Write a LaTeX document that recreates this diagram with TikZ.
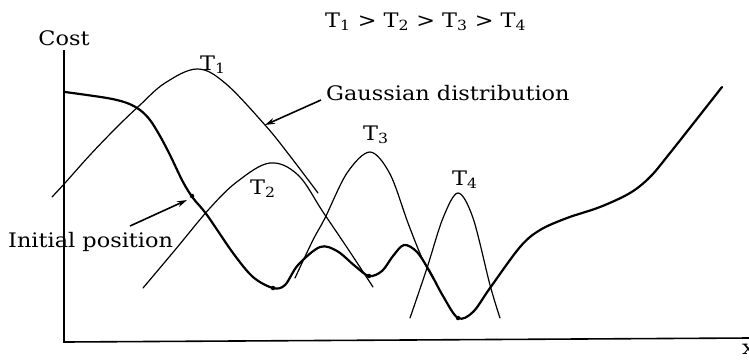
\documentclass[tikz,border=0pt]{standalone}
\usepackage{fontspec}
\setmainfont{DejaVu Serif}
\usetikzlibrary{arrows.meta}
\begin{document}
\begin{tikzpicture}[x=1pt,y=-1pt,
  lbl/.style={inner sep=0pt, xscale=1.12, font=\fontsize{20}{22}\selectfont},
  gauss/.style={line width=1.2pt, line join=round, line cap=round},
  cost curve/.style={line width=2.2pt, line join=round, line cap=round},
  axis/.style={line width=1.6pt},
  ptr/.style={line width=1.6pt, -{Stealth[length=10pt,width=6pt]}},
  ball/.style={circle, fill, inner sep=0pt, minimum size=4.5pt}]
\useasboundingbox (0,0) rectangle (749,360);
% axes
\coordinate (ytop) at (64,50);
\coordinate (orig) at (64,342);
\coordinate (xend) at (749,338);
\draw[axis] (ytop) -- (orig) -- (xend);
\node[lbl] (cost) at (64,38) {Cost};
\node[lbl, anchor=base west] (xlab) at (742,354) {x};
% ordering
\node[lbl, anchor=base west] (order) at (325,27) {T\textsubscript{1} > T\textsubscript{2} > T\textsubscript{3} > T\textsubscript{4}};
% gaussians
\draw[gauss] plot[smooth, tension=0.6] coordinates {(52,197) (65,183) (90,155) (117,127) (140,105) (165,83) (197,69) (225,83) (265,125) (290,156) (318,193)};
\draw[gauss] plot[smooth, tension=0.6] coordinates {(143,288) (175,250) (210,208) (238,181) (270,163) (298,175) (323,212) (348,249) (373,287)};
\draw[gauss] plot[smooth, tension=0.55] coordinates {(295,278) (313,240) (325,218) (347,173) (370,152) (390,174) (408,223) (422,258) (434,280)};
\draw[gauss] plot[smooth, tension=0.55] coordinates {(410,318) (427,268) (443,218) (458,193) (473,218) (490,285) (500,318)};
% cost function
\draw[cost curve] plot[smooth, tension=0.55] coordinates {(65,92) (107,98) (127,103) (140,110) (150,120) (160,136) (170,155) (183,182) (193,198) (207,215) (233,253) (253,277) (273,288) (285,285) (298,265) (320,247) (337,251) (355,266) (369,276) (382,271) (393,256) (404,245) (417,252) (430,272) (443,296) (458,318) (473,312) (490,288) (520,247) (540,230) (567,218) (600,207) (630,193) (650,177) (670,153) (722,87)};
% balls
\node[ball] (b0) at (192,196) {};
\node[ball] (b1) at (273,288) {};
\node[ball] (b2) at (369,276) {};
\node[ball] (b3) at (458,318) {};
% labels
\node[lbl, anchor=base west] (t1) at (200,70) {T\textsubscript{1}};
\node[lbl, anchor=base west] (t2) at (250,194) {T\textsubscript{2}};
\node[lbl, anchor=base west] (t3) at (363,140) {T\textsubscript{3}};
\node[lbl, anchor=base west] (t4) at (452,185) {T\textsubscript{4}};
\node[lbl, anchor=base west] (gd) at (326,100) {Gaussian distribution};
\node[lbl, anchor=base west] (ip) at (8,247) {Initial position};
% pointers
\coordinate (gs) at (321,100);
\coordinate (gt) at (265,125);
\draw[ptr] (gs) -- (gt);
\coordinate (is) at (130,226);
\coordinate (it) at (187,200);
\draw[ptr] (is) -- (it);
\end{tikzpicture}
\end{document}
